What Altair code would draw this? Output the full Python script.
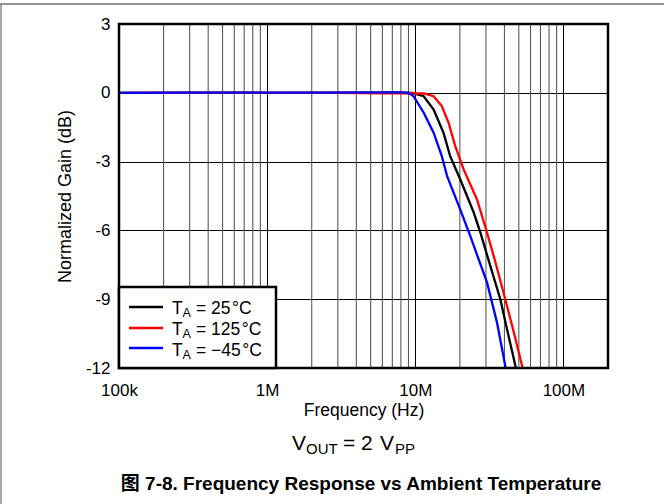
import altair as alt
import pandas as pd

# ---------------- data ----------------
freq_25 = [1e5, 3e5, 1e6, 3e6, 6e6, 8e6, 9.5e6, 11.4e6, 13.3e6, 15.5e6, 17.2e6,
           20.1e6, 24.8e6, 27.5e6, 32.1e6, 37.5e6, 41.6e6, 47.4e6, 49e6]
gain_25 = [0.0, 0.01, 0.0, 0.01, 0.01, 0.01, 0.0, -0.15, -0.73, -1.74, -2.76,
           -3.77, -5.22, -6.09, -7.55, -9.0, -10.3, -11.9, -12.4]

freq_125 = [1e5, 3e5, 1e6, 3e6, 6e6, 8e6, 10e6, 11.4e6, 13.3e6, 15.1e6, 16.8e6,
            18.6e6, 21.2e6, 26.1e6, 30.5e6, 34.8e6, 40.5e6, 46.3e6, 52.6e6, 54e6]
gain_125 = [0.0, 0.0, 0.0, 0.0, -0.02, -0.02, -0.03, -0.03, -0.15, -0.58, -1.31,
            -2.32, -3.34, -4.65, -6.09, -7.4, -9.0, -10.45, -11.9, -12.3]

freq_m45 = [1e5, 3e5, 1e6, 3e6, 6e6, 8e6, 9.0e6, 9.74e6, 11.4e6, 13.3e6, 15.1e6,
            16.4e6, 20.1e6, 23.5e6, 30.5e6, 35.6e6, 40.5e6, 42e6]
gain_m45 = [0.0, 0.01, 0.01, 0.01, 0.02, 0.02, 0.0, -0.15, -0.87, -1.74, -2.76,
            -3.63, -5.08, -6.24, -8.27, -10.01, -11.9, -12.4]

major_freqs = [1e5, 1e6, 1e7, 1e8]
major_labels = ["100k", "1M", "10M", "100M"]
minor_freqs = [m * d for d in (1e5, 1e6, 1e7) for m in range(2, 10)]
gain_ticks = [-12, -9, -6, -3, 0, 3]

legend_values = ["= 25\u200a\u00b0C", "= 125\u200a\u00b0C", "= \u221245\u200a\u00b0C"]
legend_colors = ["#000000", "#ff0000", "#0000ff"]

FONT = "Liberation Sans, Arial, Helvetica, sans-serif"
CJK_FONT = "Liberation Sans, Arial, Noto Sans CJK SC, sans-serif"

W, H = 489, 344
PAD_L, PAD_T = 119, 24

xscale = alt.Scale(type="log", domain=[1e5, 2e8], nice=False)
yscale = alt.Scale(domain=[-12, 3], nice=False, zero=False)

label_expr = " : ".join(
    f"datum.value == {v:g} ? '{l}'" for v, l in zip(major_freqs, major_labels)
) + " : ''"

xaxis = alt.Axis(
    values=major_freqs, labelExpr=label_expr, grid=True, gridColor="#000000",
    gridWidth=1, ticks=False, domain=False, labelFontSize=17, labelFont=FONT,
    labelColor="#000000", labelPadding=27, labelBaseline="alphabetic",
    labelFlush=False, labelOverlap=False, labelBound=False,
    title="Frequency (Hz)", titleFont=FONT, titleFontSize=17.5,
    titleFontWeight="normal", titleColor="#000000", titleX=W / 2, titleY=47,
    titleAlign="center", titleBaseline="alphabetic",
)
yaxis = alt.Axis(
    values=gain_ticks, labelExpr="'' + datum.value", grid=True,
    gridColor="#000000", gridWidth=1, ticks=False, domain=False,
    labelFontSize=17, labelFont=FONT, labelColor="#000000", labelPadding=9,
    labelFlush=False, labelOverlap=False, labelBound=False,
    title="Normalized Gain (dB)", titleFont=FONT, titleFontSize=18,
    titleFontWeight="normal", titleColor="#000000", titleAngle=270,
    titleX=-49, titleY=H / 2, titleAlign="center", titleBaseline="alphabetic",
)

dummy = pd.DataFrame({"d": [0]})

minor = alt.Chart(pd.DataFrame({"f": minor_freqs})).mark_rule(
    color="#5a5a5a", strokeWidth=1.1
).encode(x=alt.X("f:Q", scale=xscale, axis=xaxis))


def curve(fs, gs, color):
    df = pd.DataFrame({"freq": fs, "gain": gs})
    return alt.Chart(df).mark_line(color=color, strokeWidth=2.3, clip=True).encode(
        x=alt.X("freq:Q", scale=xscale, axis=xaxis),
        y=alt.Y("gain:Q", scale=yscale, axis=yaxis),
    )


lines = [
    curve(freq_25, gain_25, legend_colors[0]),
    curve(freq_125, gain_125, legend_colors[1]),
    curve(freq_m45, gain_m45, legend_colors[2]),
]

frame = alt.Chart(dummy).mark_rect(
    fill=None, stroke="black", strokeWidth=2.5
).encode(x=alt.value(0), x2=alt.value(W), y=alt.value(0), y2=alt.value(H))

# ---------------- legend (manual, to allow subscripts) ----------------
leg_box = alt.Chart(dummy).mark_rect(
    fill="white", stroke="black", strokeWidth=2.5
).encode(x=alt.value(0), x2=alt.value(157), y=alt.value(263), y2=alt.value(344))

leg_layers = [leg_box]
row_line_y = [283, 304, 324]
row_base_y = [290, 311, 332]
for i in range(3):
    leg_layers.append(
        alt.Chart(dummy).mark_rule(color=legend_colors[i], strokeWidth=2.5).encode(
            x=alt.value(10), x2=alt.value(44), y=alt.value(row_line_y[i])
        )
    )
    leg_layers.append(
        alt.Chart(dummy).mark_text(
            text="T", align="left", baseline="alphabetic", fontSize=17.5, font=FONT,
            color="black"
        ).encode(x=alt.value(53), y=alt.value(row_base_y[i]))
    )
    leg_layers.append(
        alt.Chart(dummy).mark_text(
            text="A", align="left", baseline="alphabetic", fontSize=12.5, font=FONT,
            color="black"
        ).encode(x=alt.value(63.5), y=alt.value(row_base_y[i] + 3))
    )
    leg_layers.append(
        alt.Chart(dummy).mark_text(
            text=legend_values[i], align="left", baseline="alphabetic", fontSize=17.5,
            font=FONT, color="black"
        ).encode(x=alt.value(77), y=alt.value(row_base_y[i]))
    )

# ---------------- captions ----------------
def txt(t, x, y, size, weight="normal", font=FONT, align="left"):
    return alt.Chart(dummy).mark_text(
        text=t, align=align, baseline="alphabetic", fontSize=size, font=font,
        fontWeight=weight, color="black"
    ).encode(x=alt.value(x), y=alt.value(y))

cap_y = 450 - PAD_T
captions = [
    txt("V", 292 - PAD_L, cap_y, 21),
    txt("OUT", 306 - PAD_L, cap_y + 4, 15),
    txt("=", 343 - PAD_L, cap_y, 21),
    txt("2", 361 - PAD_L, cap_y, 21),
    txt("V", 380 - PAD_L, cap_y, 21),
    txt("PP", 395 - PAD_L, cap_y + 4, 15),
    txt("图 7-8. Frequency Response vs Ambient Temperature", 361 - PAD_L,
        490 - PAD_T, 19, weight="bold", font=CJK_FONT, align="center"),
]

border = [
    alt.Chart(dummy).mark_rule(color="#707070", strokeWidth=1.5).encode(
        x=alt.value(-PAD_L), x2=alt.value(664 - PAD_L), y=alt.value(4 - PAD_T)
    ),
    alt.Chart(dummy).mark_rule(color="#8a8a8a", strokeWidth=1.5).encode(
        x=alt.value(1 - PAD_L), y=alt.value(4 - PAD_T), y2=alt.value(504 - PAD_T)
    ),
]

chart = alt.layer(
    minor, *lines, frame, *leg_layers, *captions, *border
).properties(
    width=W, height=H,
    autosize=alt.AutoSizeParams(type="none"),
    padding={"left": PAD_L, "top": PAD_T, "right": 664 - PAD_L - W,
             "bottom": 504 - PAD_T - H},
    background="white",
).configure_view(
    stroke=None
).configure(font=FONT)

chart.save("out.html", embed_options={"renderer": "svg", "actions": False})
